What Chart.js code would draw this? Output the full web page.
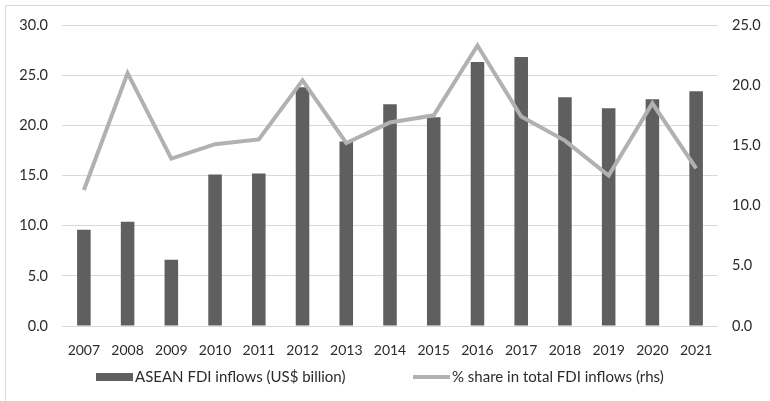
<!DOCTYPE html>
<html>
<head>
<meta charset="utf-8">
<script src="https://cdn.jsdelivr.net/npm/chart.js@4/dist/chart.umd.min.js"></script>
<style>
  html, body { margin: 0; padding: 0; background: #fff; }
  #wrap { position: relative; width: 770px; height: 401px; overflow: hidden; }
  #frame { position: absolute; left: 5px; top: 5px; width: 800px; height: 500px;
           border-top: 1px solid #d9d9d9; border-left: 1px solid #d9d9d9; }
  canvas { position: absolute; left: 0; top: 0; }
</style>
</head>
<body>
<div id="wrap">
  <div id="frame"></div>
  <canvas id="chart" width="770" height="401"></canvas>
</div>
<script>
// ASEAN FDI inflows and share of world FDI, 2007-2021
const years = ['2007', '2008', '2009', '2010', '2011', '2012', '2013', '2014',
               '2015', '2016', '2017', '2018', '2019', '2020', '2021'];
const inflows = [9.6, 10.4, 6.6, 15.1, 15.2, 23.8, 18.4, 22.1,
                 20.8, 26.3, 26.8, 22.8, 21.7, 22.6, 23.4];
const sharePct = [11.3, 21.0, 13.9, 15.1, 15.5, 20.4, 15.2, 16.9,
                  17.5, 23.3, 17.4, 15.4, 12.5, 18.5, 13.1];
const leftTicks = [0, 5, 10, 15, 20, 25, 30];
const rightTicks = [0, 5, 10, 15, 20, 25];

const textColor = '#2b2b2b';
const fontFamily = 'Lato, "Open Sans", sans-serif';

// legend drawn by hand so the gap between the two entries can be set freely
const bottomLegend = {
  id: 'bottomLegend',
  afterDraw(chart) {
    const ctx = chart.ctx;
    const y = 377;
    const items = [
      { x: 96, ds: chart.data.datasets[1], h: 8 },
      { x: 413, ds: chart.data.datasets[0], h: 4 }
    ];
    ctx.save();
    ctx.font = '15px ' + fontFamily;
    ctx.textBaseline = 'middle';
    items.forEach(it => {
      const c = it.ds.type === 'line' ? it.ds.borderColor : it.ds.backgroundColor;
      ctx.fillStyle = c;
      ctx.fillRect(it.x, y - it.h / 2, 37, it.h);
      ctx.fillStyle = textColor;
      ctx.fillText(it.ds.label, it.x + 39, y);
    });
    ctx.restore();
  }
};

new Chart(document.getElementById('chart'), {
  data: {
    labels: years,
    datasets: [
      {
        type: 'line',
        label: '% share in total FDI inflows (rhs)',
        data: sharePct,
        yAxisID: 'y1',
        borderColor: '#b1b1b1',
        borderWidth: 4,
        pointRadius: 0,
        tension: 0,
        order: 0
      },
      {
        type: 'bar',
        label: 'ASEAN FDI inflows (US$ billion)',
        data: inflows,
        yAxisID: 'y',
        backgroundColor: '#5f5f5f',
        categoryPercentage: 1,
        barPercentage: 0.31,
        order: 1
      }
    ]
  },
  options: {
    responsive: false,
    animation: false,
    layout: { padding: { left: 0, right: 0, top: 25, bottom: 0 } },
    plugins: { legend: { display: false }, tooltip: { enabled: false } },
    scales: {
      x: {
        grid: { display: false },
        border: { display: false },
        afterFit: a => { a.height = 75; },
        ticks: { color: textColor, font: { family: fontFamily, size: 14 }, padding: 8, maxRotation: 0 }
      },
      y: {
        position: 'left',
        min: 0, max: 30,
        afterBuildTicks: axis => { axis.ticks = leftTicks.map(v => ({ value: v })); },
        afterFit: a => { a.width = 62; },
        grid: { color: '#d9d9d9', lineWidth: 1, drawTicks: false },
        border: { display: false },
        ticks: { color: textColor, font: { family: fontFamily, size: 14.5 }, padding: 14,
                 callback: v => v.toFixed(1) }
      },
      y1: {
        position: 'right',
        min: 0, max: 25,
        afterBuildTicks: axis => { axis.ticks = rightTicks.map(v => ({ value: v })); },
        afterFit: a => { a.width = 52; },
        grid: { display: false, drawTicks: false },
        border: { display: false },
        ticks: { color: textColor, font: { family: fontFamily, size: 14.5 }, padding: 14,
                 callback: v => v.toFixed(1) }
      }
    }
  },
  plugins: [bottomLegend]
});
</script>
</body>
</html>
